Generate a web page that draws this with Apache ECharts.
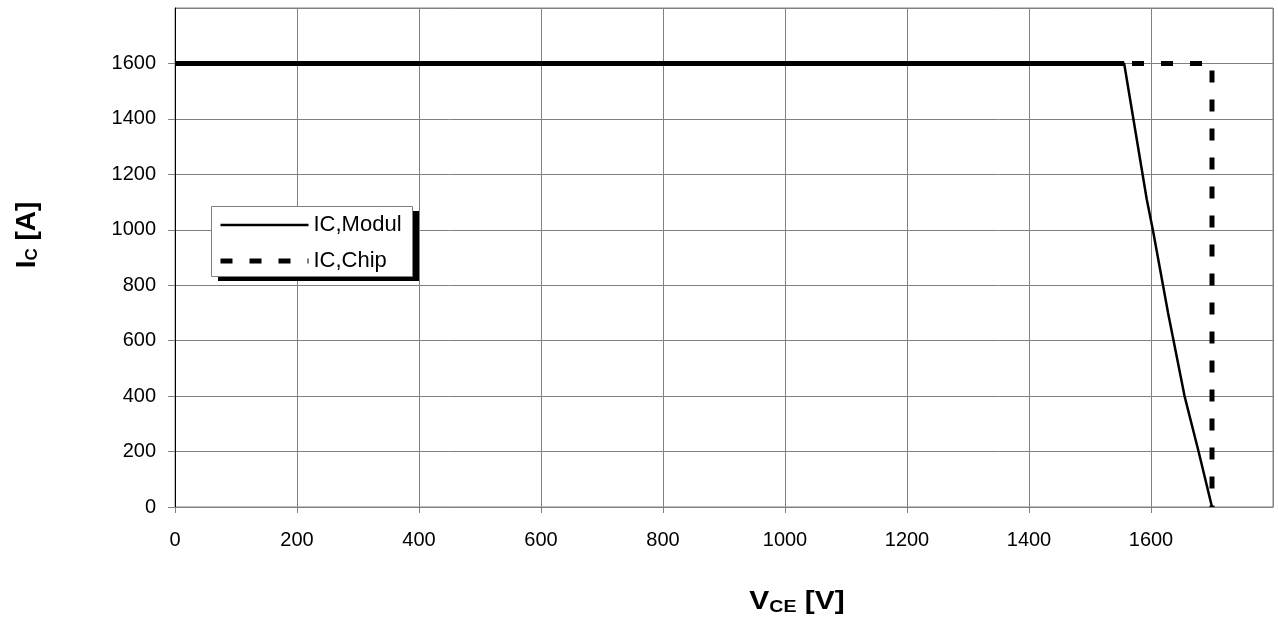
<!DOCTYPE html>
<html>
<head>
<meta charset="utf-8">
<script src="https://cdn.jsdelivr.net/npm/echarts@6/dist/echarts.min.js"></script>
<style>html,body{margin:0;padding:0;background:#fff}#c{width:1278px;height:624px}</style>
</head>
<body>
<div id="c"></div>
<script>
// Data
const modulV = [0, 1556, 1593, 1603, 1628, 1655, 1678, 1700];
const modulI = [1600, 1600, 1110, 1000, 700, 400, 200, 0];
const chipV = [0, 1700, 1700];
const chipI = [1600, 1600, 0];
const xTicks = [0, 200, 400, 600, 800, 1000, 1200, 1400, 1600, 1800];
const yTicks = [0, 200, 400, 600, 800, 1000, 1200, 1400, 1600, 1800];
const seriesNames = ['IC,Modul', 'IC,Chip'];

const FONT = '"Liberation Sans", Arial, sans-serif';
const modulData = modulV.map((v, i) => [v, modulI[i]]);
const chipData = chipV.map((v, i) => [v, chipI[i]]);
// flat (constant-current) part of the module curve, drawn heavier as in the reference
const modulFlat = modulData.filter(p => p[1] === modulI[0]);

const chart = echarts.init(document.getElementById('c'), null, {renderer: 'canvas'});
chart.setOption({
  animation: false,
  backgroundColor: '#fff',
  grid: {left: 175, top: 8, right: 5, bottom: 117, show: true, borderColor: '#808080', borderWidth: 1, containLabel: false},
  xAxis: {
    type: 'value', min: xTicks[0], max: xTicks[xTicks.length - 1], interval: xTicks[1] - xTicks[0],
    axisLine: {show: true, onZero: false, lineStyle: {color: '#808080', width: 1}},
    axisTick: {show: true, inside: false, length: 6, lineStyle: {color: '#808080'}},
    axisLabel: {margin: 23, color: '#000', fontSize: 20, fontFamily: FONT, showMaxLabel: false,
                formatter: v => String(v)},
    splitLine: {show: true, lineStyle: {color: '#808080', width: 1}}
  },
  yAxis: {
    type: 'value', min: yTicks[0], max: yTicks[yTicks.length - 1], interval: yTicks[1] - yTicks[0],
    axisLine: {show: true, onZero: false, lineStyle: {color: '#000', width: 1}},
    axisTick: {show: true, inside: false, length: 7, lineStyle: {color: '#808080'}},
    axisLabel: {margin: 19, color: '#000', fontSize: 20, fontFamily: FONT, showMaxLabel: false,
                formatter: v => String(v)},
    splitLine: {show: true, lineStyle: {color: '#808080', width: 1}}
  },
  legend: {
    data: [
      {name: seriesNames[0], lineStyle: {width: 2.5}},
      {name: seriesNames[1], lineStyle: {width: 5}}
    ],
    orient: 'vertical', left: 211, top: 206, z: 12,
    itemWidth: 88, itemHeight: 14, itemGap: 14,
    padding: [8, 6, 6, 7],
    itemStyle: {opacity: 0},
    textStyle: {color: '#000', fontSize: 22, fontFamily: FONT}
  },
  series: [
    {name: 'flat', type: 'line', data: modulFlat, symbol: 'none', silent: true,
     lineStyle: {color: '#000', width: 5}, z: 3},
    {name: seriesNames[1], type: 'line', data: chipData, symbol: 'none',
     lineStyle: {color: '#000', width: 5, type: [12, 17], cap: 'butt'}, itemStyle: {color: '#000'}, z: 2},
    {name: seriesNames[0], type: 'line', data: modulData, symbol: 'none',
     lineStyle: {color: '#000', width: 2.5}, itemStyle: {color: '#000'}, z: 4}
  ],
  graphic: [
    {type: 'rect', z: 10, shape: {x: 218, y: 211, width: 201, height: 70}, style: {fill: '#000'}},
    {type: 'rect', z: 11, shape: {x: 211.5, y: 206.5, width: 201, height: 70}, style: {fill: '#fff', stroke: '#808080', lineWidth: 1}},
    {type: 'text', x: 797, y: 602, scaleX: 1.15, style: {
      text: '{b|V}{s|CE}{b| [V]}', align: 'center', verticalAlign: 'middle', fill: '#000',
      rich: {b: {fontSize: 26, fontWeight: 'bold', fontFamily: FONT, fill: '#000'},
             s: {fontSize: 17, fontWeight: 'bold', fontFamily: FONT, fill: '#000', padding: [10, 0, 0, 0]}}}},
    {type: 'text', x: 27, y: 235, rotation: Math.PI / 2, style: {
      text: '{b|I}{s|C}{b| [A]}', align: 'center', verticalAlign: 'middle', fill: '#000',
      rich: {b: {fontSize: 28, fontWeight: 'bold', fontFamily: FONT, fill: '#000'},
             s: {fontSize: 17, fontWeight: 'bold', fontFamily: FONT, fill: '#000', padding: [10, 0, 0, 0]}}}}
  ]
});
</script>
</body>
</html>
